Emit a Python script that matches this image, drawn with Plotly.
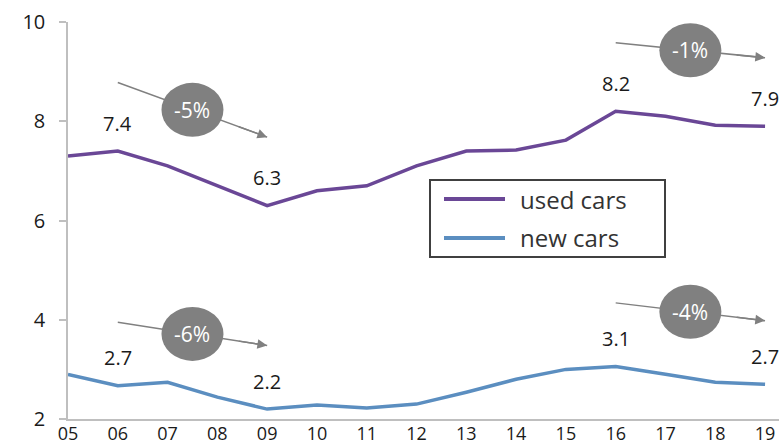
import plotly.graph_objects as go

years = [2005, 2006, 2007, 2008, 2009, 2010, 2011, 2012, 2013, 2014, 2015, 2016, 2017, 2018, 2019]
year_labels = ["05", "06", "07", "08", "09", "10", "11", "12", "13", "14", "15", "16", "17", "18", "19"]
used_cars = [7.3, 7.4, 7.1, 6.7, 6.3, 6.6, 6.7, 7.1, 7.4, 7.42, 7.62, 8.2, 8.1, 7.92, 7.9]
new_cars = [2.9, 2.67, 2.74, 2.44, 2.2, 2.28, 2.22, 2.3, 2.54, 2.8, 3.0, 3.06, 2.9, 2.74, 2.7]
series_names = ["used cars", "new cars"]
labeled_years = [2006, 2009, 2016, 2019]
# trend call-outs: (series index, start year, end year, text)
trends = [(0, 2006, 2009, "-5%"), (0, 2016, 2019, "-1%"), (1, 2006, 2009, "-6%"), (1, 2016, 2019, "-4%")]

COLORS = ["#6a4796", "#5b8ec0"]
FONT = "Open Sans"
TXT = "#1a1a1a"
GREY = "#808080"

fig = go.Figure()
for name, vals, col in zip(series_names, [used_cars, new_cars], COLORS):
    fig.add_trace(go.Scatter(x=years, y=vals, mode="lines", name=name,
                             line=dict(color=col, width=3.5), hoverinfo="skip",
                             showlegend=False))

series = [used_cars, new_cars]
annotations = []
shapes = []
# data labels
for vals in series:
    for yr in labeled_years:
        i = years.index(yr)
        annotations.append(dict(x=yr, y=vals[i], text=f"{vals[i]:.1f}", showarrow=False,
                                yshift=28, font=dict(size=20, color=TXT, family=FONT)))

# trend arrows with circled percentages
OFF = [1.38, 1.28]
for si, y0, y1, txt in trends:
    vals = series[si]
    v0 = vals[years.index(y0)] + OFF[si]
    v1 = vals[years.index(y1)] + OFF[si]
    shapes.append(dict(type="line", xref="x", yref="y", x0=y0, y0=v0, x1=y1, y1=v1,
                       line=dict(color=GREY, width=1.5), layer="above"))
    mx, my = (y0 + y1) / 2, (v0 + v1) / 2
    shapes.append(dict(type="circle", xref="x", yref="y", xsizemode="pixel", ysizemode="pixel",
                       xanchor=mx, yanchor=my, x0=-31, x1=31, y0=-27, y1=27,
                       fillcolor=GREY, line=dict(width=0), layer="above"))
    f = 0.8
    annotations.append(dict(x=y1, y=v1, ax=y0 + f * (y1 - y0), ay=v0 + f * (v1 - v0),
                            axref="x", ayref="y", xref="x", yref="y", text="",
                            showarrow=True, arrowhead=2, arrowsize=1.3, arrowwidth=1.5,
                            arrowcolor=GREY))
    annotations.append(dict(x=mx, y=my, text=txt, showarrow=False,
                            font=dict(size=21, color="white", family=FONT)))

# legend box (drawn manually to match the long line samples)
PW, PH, L, B = 711, 397, 68, 419
def px(x):
    return (x - L) / PW
def py(y):
    return (B - y) / PH
shapes.append(dict(type="rect", xref="paper", yref="paper", x0=px(430), x1=px(665),
                   y0=py(257), y1=py(180), line=dict(color="#404040", width=2),
                   fillcolor="white", layer="above"))
for k, (name, col) in enumerate(zip(series_names, COLORS)):
    yy = py(199 + 39 * k)
    shapes.append(dict(type="line", xref="paper", yref="paper", x0=px(444), x1=px(505),
                       y0=yy, y1=yy, line=dict(color=col, width=4), layer="above"))
    annotations.append(dict(xref="paper", yref="paper", x=px(518), y=yy, text=name,
                            xanchor="left", yanchor="middle", showarrow=False,
                            font=dict(size=24, color="#333333", family=FONT)))

fig.update_layout(
    width=779, height=447,
    margin=dict(l=68, r=0, t=22, b=28),
    paper_bgcolor="white", plot_bgcolor="white",
    font=dict(family=FONT, color=TXT, size=20),
    showlegend=False,
    xaxis=dict(range=[2005, 2019.28], tickvals=years, ticktext=year_labels,
               showgrid=False, zeroline=False, showline=True, linecolor="#bfbfbf",
               linewidth=1.5, ticks="", tickfont=dict(size=18, color=TXT),
               automargin=False, ticklabelstandoff=-2),
    yaxis=dict(range=[2, 10], tickvals=[2, 4, 6, 8, 10], showgrid=False, zeroline=False,
               showline=True, linecolor="#bfbfbf", linewidth=1.5, ticks="outside",
               ticklen=7, tickcolor="#bfbfbf", tickwidth=1.5,
               tickfont=dict(size=20, color=TXT), automargin=False, ticklabelstandoff=10),
    annotations=annotations, shapes=shapes,
)

fig.write_html("out.html")
